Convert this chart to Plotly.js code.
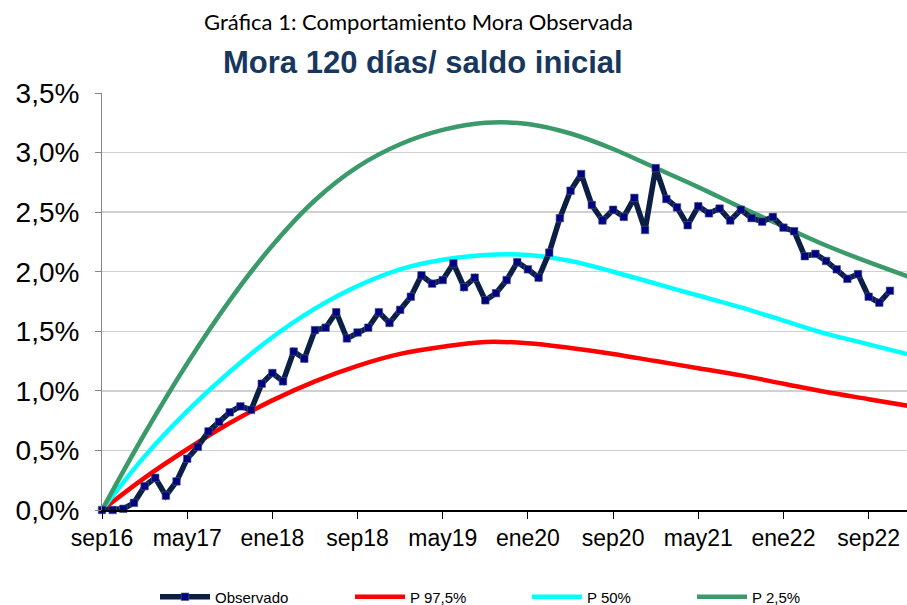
<!DOCTYPE html>
<html>
<head>
<meta charset="utf-8">
<script src="https://cdn.plot.ly/plotly-3.0.1.min.js"></script>
<style>
  html, body { margin: 0; padding: 0; background: #ffffff; }
  #chart { width: 907px; height: 605px; }
</style>
</head>
<body>
<div id="chart"></div>
<script>
// ---------- data ----------
const months = [
  'sep16','oct16','nov16','dic16',
  'ene17','feb17','mar17','abr17','may17','jun17','jul17','ago17','sep17','oct17','nov17','dic17',
  'ene18','feb18','mar18','abr18','may18','jun18','jul18','ago18','sep18','oct18','nov18','dic18',
  'ene19','feb19','mar19','abr19','may19','jun19','jul19','ago19','sep19','oct19','nov19','dic19',
  'ene20','feb20','mar20','abr20','may20','jun20','jul20','ago20','sep20','oct20','nov20','dic20',
  'ene21','feb21','mar21','abr21','may21','jun21','jul21','ago21','sep21','oct21','nov21','dic21',
  'ene22','feb22','mar22','abr22','may22','jun22','jul22','ago22','sep22','oct22','nov22','dic22',
  'ene23'
];

const observedMonths = months.slice(0, 75);
const observado = [
  0.00, 0.00, 0.01, 0.06,
  0.20, 0.27, 0.12, 0.24, 0.43, 0.53, 0.66, 0.74, 0.82, 0.87, 0.84, 1.06,
  1.15, 1.08, 1.33, 1.27, 1.51, 1.53, 1.66, 1.44, 1.49, 1.53, 1.66, 1.57,
  1.68, 1.79, 1.97, 1.90, 1.93, 2.07, 1.87, 1.95, 1.76, 1.82, 1.93, 2.08,
  2.02, 1.95, 2.16, 2.45, 2.68, 2.82, 2.56, 2.43, 2.52, 2.46, 2.62, 2.35,
  2.87, 2.61, 2.54, 2.39, 2.55, 2.49, 2.53, 2.43, 2.52, 2.45, 2.42, 2.46,
  2.37, 2.34, 2.13, 2.15, 2.09, 2.02, 1.94, 1.98, 1.79, 1.74, 1.84
];

const curveMonths = ['sep16','ene17','may17','sep17','ene18','may18','sep18','ene19','may19','sep19',
                     'ene20','may20','sep20','ene21','may21','sep21','ene22','may22','sep22','ene23'];
const p975 = [0.00, 0.27, 0.51, 0.73, 0.92, 1.08, 1.21, 1.31, 1.37, 1.41,
              1.40, 1.36, 1.31, 1.25, 1.19, 1.13, 1.06, 0.99, 0.93, 0.87];
const p50  = [0.00, 0.45, 0.83, 1.16, 1.45, 1.69, 1.88, 2.02, 2.10, 2.14,
              2.14, 2.09, 2.00, 1.90, 1.80, 1.70, 1.59, 1.48, 1.39, 1.30];
const p25  = [0.00, 0.64, 1.23, 1.76, 2.22, 2.60, 2.88, 3.07, 3.19, 3.25,
              3.24, 3.16, 3.03, 2.87, 2.71, 2.54, 2.38, 2.22, 2.08, 1.95];

const tickLabels = ['sep16','may17','ene18','sep18','may19','ene20','sep20','may21','ene22','sep22'];

const seriesNames = ['Observado', 'P 97,5%', 'P 50%', 'P 2,5%'];
const colors = { obsLine: '#0B1F45', obsMarker: '#000080', red: '#FF0000', cyan: '#00FFFF', green: '#3A9A6A' };

// ---------- geometry helpers ----------
const L = 102, R = 0, T = 93, B = 95, W = 907, H = 605;
const plotW = W - L - R, plotH = H - T - B;
const px = v => (v - L) / plotW;
const py = v => (H - B - v) / plotH;

const sans = 'Liberation Sans, Arial, sans-serif';
const legFont = { family: sans, size: 15, color: '#000000' };

const traces = [
  {
    x: observedMonths, y: observado, name: seriesNames[0], type: 'scatter', mode: 'lines+markers',
    line: { color: colors.obsLine, width: 5.5 },
    marker: { symbol: 'square', size: 7.5, color: colors.obsMarker, line: { color: '#4a5a80', width: 0.6 } },
    cliponaxis: false, legend: 'legend'
  },
  {
    x: curveMonths, y: p975, name: seriesNames[1], type: 'scatter', mode: 'lines',
    line: { color: colors.red, width: 4.5, shape: 'spline' }, legend: 'legend2'
  },
  {
    x: curveMonths, y: p50, name: seriesNames[2], type: 'scatter', mode: 'lines',
    line: { color: colors.cyan, width: 4.5, shape: 'spline' }, legend: 'legend3'
  },
  {
    x: curveMonths, y: p25, name: seriesNames[3], type: 'scatter', mode: 'lines',
    line: { color: colors.green, width: 4.5, shape: 'spline' }, legend: 'legend4'
  }
];
// draw observed on top
const drawOrder = [traces[1], traces[2], traces[3], traces[0]];

function leg(startPx) {
  return {
    x: px(startPx), y: py(597), xanchor: 'left', yanchor: 'middle',
    orientation: 'h', font: legFont, itemwidth: 50, bgcolor: 'rgba(0,0,0,0)', borderwidth: 0
  };
}

const layout = {
  width: W, height: H,
  margin: { l: L, r: R, t: T, b: B, pad: 0, autoexpand: false },
  paper_bgcolor: '#ffffff', plot_bgcolor: '#ffffff',
  separators: ',.',
  showlegend: true,
  legend: leg(155), legend2: leg(350), legend3: leg(527), legend4: leg(692),
  xaxis: {
    type: 'category', categoryorder: 'array', categoryarray: months,
    range: [0, 75.6], tickmode: 'array', tickvals: tickLabels, ticktext: tickLabels,
    showline: true, linecolor: '#000000', linewidth: 1.5,
    ticks: 'outside', ticklen: 7, tickwidth: 1, tickcolor: '#000000',
    showgrid: false, zeroline: false, automargin: false,
    tickfont: { family: sans, size: 23, color: '#000000' }
  },
  yaxis: {
    range: [0, 3.5], tick0: 0, dtick: 0.5, tickformat: '.1f', ticksuffix: '%',
    showline: true, linecolor: '#868686', linewidth: 1,
    ticks: 'outside', ticklen: 6, tickwidth: 1, tickcolor: '#868686',
    showgrid: true, gridcolor: '#D0D0D0', gridwidth: 1.3, zeroline: false, automargin: false,
    ticklabelstandoff: 10,
    tickfont: { family: sans, size: 28, color: '#000000' }
  },
  annotations: [
    {
      text: 'Gráfica 1: Comportamiento Mora Observada', xref: 'paper', yref: 'paper',
      x: px(418), y: py(22), xanchor: 'center', yanchor: 'middle', showarrow: false,
      font: { family: 'Lato, Carlito, Calibri, sans-serif', size: 22, color: '#000000' }
    },
    {
      text: '<b>Mora 120 días/ saldo inicial</b>', xref: 'paper', yref: 'paper',
      x: px(423), y: py(62), xanchor: 'center', yanchor: 'middle', showarrow: false,
      font: { family: sans, size: 31, color: '#17375E' }
    }
  ]
};

Plotly.newPlot('chart', drawOrder, layout, { displayModeBar: false, staticPlot: true });
</script>
</body>
</html>
